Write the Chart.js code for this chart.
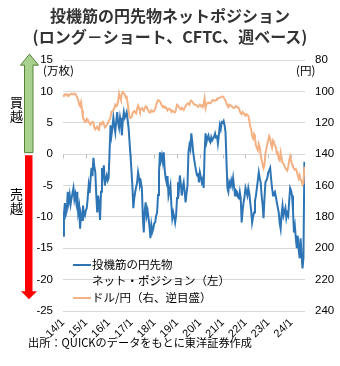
<!DOCTYPE html>
<html><head><meta charset="utf-8">
<script src="https://cdn.jsdelivr.net/npm/chart.js@4"></script>
<style>
html,body{margin:0;padding:0;background:#fff}
body{width:340px;height:366px;position:relative;overflow:hidden;font-family:"Noto Sans CJK JP","Noto Sans",sans-serif;color:#000}
canvas{position:absolute;left:0;top:0}
.tx{position:absolute;white-space:nowrap;line-height:1}
.title{left:0;width:340px;text-align:center;font-weight:bold;color:#333}
.sw{position:absolute;height:2px}
</style>
</head><body>
<canvas id="c" width="340" height="366"></canvas>
<div class="tx title" style="top:7px;font-size:16px">投機筋の円先物ネットポジション</div>
<div class="tx title" style="top:28px;font-size:16px">(ロング－ショート、CFTC、週ベース)</div>
<div class="tx" style="left:43px;top:65px;font-size:11.5px">(万枚)</div>
<div class="tx" style="left:296px;top:65px;font-size:11.5px">(円)</div>
<div class="tx" style="left:10px;top:95px;font-size:13px;line-height:13.5px">買<br>越</div>
<div class="tx" style="left:10px;top:187px;font-size:13px;line-height:14px">売<br>越</div>
<div class="sw" style="left:73px;top:264px;width:18px;background:#2e75b6"></div>
<div class="tx" style="left:92px;top:259px;font-size:11.5px">投機筋の円先物</div>
<div class="tx" style="left:92px;top:275px;font-size:11.5px">ネット・ポジション（左）</div>
<div class="sw" style="left:73px;top:297px;width:18px;background:#f4b183"></div>
<div class="tx" style="left:92px;top:292px;font-size:11.5px">ドル/円（右、逆目盛）</div>
<div class="tx" style="left:28px;top:337px;font-size:11.2px">出所：QUICKのデータをもとに東洋証券作成</div>
<script>
// tick labels on the time axis
const tickLabels = ['14/1','15/1','16/1','17/1','18/1','19/1','20/1','21/1','22/1','23/1','24/1'];
const tickYears = [2014,2015,2016,2017,2018,2019,2020,2021,2022,2023,2024];
// series: half-month observations starting Jan 2014
const seriesStart = 2014;
const stepsPerYear = 24;
// speculators' net yen futures position (10k contracts), left axis
const netPos = [
-13.0,-9.5,-7.8,-9.6,-9.0,-6.0,-7.6,-6.5,-8.0,-7.0,-6.2,-5.4,-7.2,-6.4,-7.7,-6.0,-9.3,-8.4,-11.9,-9.6,-10.5,-8.2,-9.4,-9.8,
-9.0,-8.6,-7.0,-5.0,-6.2,-4.0,-2.2,-3.5,-0.6,-2.0,-2.9,-6.5,-9.3,-6.6,-8.0,-10.5,-6.0,-2.2,-3.2,-1.8,-5.0,-4.0,-3.4,-4.2,
-3.8,0.3,4.6,3.0,4.2,5.8,4.6,3.5,5.2,6.7,5.0,4.2,5.8,4.8,3.0,5.5,6.7,5.8,6.2,6.7,5.5,4.2,2.0,-0.2,
-2.5,-5.0,-8.6,-7.0,-6.0,-5.2,-4.5,-2.9,-3.8,-5.0,-4.5,-5.4,-10.0,-12.5,-9.0,-7.7,-9.8,-9.0,-10.2,-11.5,-13.4,-11.3,-12.4,-11.9,
-11.0,-10.9,-9.8,-9.3,-6.5,-3.0,0.3,-1.0,-0.2,-1.2,0.3,-2.5,-3.8,-4.5,-3.5,-6.6,-5.8,-5.0,-8.0,-10.2,-9.3,-10.0,-10.9,-9.8,
-7.0,-4.5,-5.5,-3.4,-4.8,-6.6,-5.2,-4.5,-6.0,-7.7,-6.2,-5.0,0.3,1.4,0.8,3.3,2.0,0.3,-0.8,-1.8,-2.6,-3.4,-3.0,-4.5,
-2.9,-3.6,-4.5,-4.0,-5.4,0.3,3.3,1.9,2.6,3.0,2.2,1.9,2.7,2.2,2.5,2.8,3.3,2.6,3.0,1.7,3.0,4.6,4.0,5.1,
5.0,5.3,4.6,3.5,-1.0,-5.4,-6.0,-4.5,-5.0,-4.2,-5.0,-3.8,-5.2,-6.6,-5.8,-6.0,-6.8,-7.0,-6.0,-7.0,-10.9,-9.0,-7.7,-6.8,
-5.4,-6.0,-6.6,-5.4,-6.2,-7.7,-9.0,-10.9,-10.0,-9.3,-7.5,-6.6,-5.4,-4.2,-2.9,-3.8,-4.5,-6.6,-8.0,-10.2,-7.0,-4.5,-4.2,-3.8,
-2.9,-2.6,-2.2,-4.0,-5.4,-6.6,-6.2,-6.0,-6.8,-7.7,-8.5,-9.3,-11.0,-11.9,-9.5,-8.2,-9.8,-9.2,-8.6,-10.2,-9.4,-9.8,-7.5,-5.4,
-5.8,-6.6,-9.0,-12.5,-11.5,-13.4,-15.0,-13.0,-15.2,-16.6,-13.4,-16.0,-18.2,-16.6,-1.2
];
// USD/JPY, right axis (reversed)
const usdJpy = [
103.0,102.5,102.0,101.8,102.6,102.0,103.0,102.2,101.8,101.5,101.9,102.0,101.4,101.6,102.8,104.0,105.5,108.5,109.5,107.0,112.0,116.5,118.0,119.5,
119.5,117.5,118.0,119.5,120.5,121.2,119.8,119.5,119.8,123.3,124.2,123.0,122.5,124.0,124.5,120.5,120.0,120.3,119.5,120.8,123.0,122.5,121.5,120.5,
119.0,118.0,116.5,113.0,112.8,112.0,110.6,108.5,109.5,109.0,106.5,101.5,104.0,105.5,101.0,100.4,101.5,101.8,104.0,103.6,107.5,112.0,116.5,117.0,
116.5,114.5,113.0,112.5,113.5,114.0,111.0,109.0,110.5,112.5,111.2,110.8,112.0,112.5,110.5,109.5,109.8,111.5,112.3,113.5,113.5,112.0,112.5,113.0,
112.5,111.0,109.0,106.8,105.5,105.8,106.5,107.5,109.0,110.0,109.5,110.5,110.0,111.0,112.2,111.0,111.0,111.8,113.0,112.2,112.8,113.3,113.3,111.0,
108.5,109.0,110.0,111.0,111.5,110.5,111.0,111.8,110.5,109.5,108.5,107.8,107.8,108.5,106.5,105.8,106.5,107.5,108.3,108.5,108.8,109.0,109.5,109.2,
108.5,109.5,109.0,110.0,108.0,104.5,110.5,108.0,107.5,107.2,107.5,107.5,107.0,105.8,105.5,106.0,105.8,105.5,104.8,104.5,104.2,104.0,103.8,103.2,
103.2,103.8,104.8,105.8,107.5,109.0,110.0,108.5,108.8,109.2,109.8,110.5,110.6,110.0,109.5,109.8,110.0,110.8,112.5,114.0,114.5,113.2,113.8,114.5,
115.5,114.5,115.0,115.5,118.5,122.5,124.0,128.5,130.0,127.5,130.0,134.5,136.0,137.5,133.5,135.5,140.5,143.5,146.5,149.0,147.0,139.5,136.5,133.5,
131.0,128.5,130.0,134.0,136.0,131.5,133.0,134.5,135.5,139.5,139.0,143.0,144.0,139.0,142.5,145.5,146.0,147.5,149.0,149.8,150.5,148.0,144.0,141.5,
144.0,146.5,147.8,149.5,150.0,149.5,151.0,153.5,155.5,153.5,156.5,157.0,159.5,158.5,148.0
];
const toPts = arr => arr.map((v,i)=>({x: seriesStart + i/stepsPerYear, y: v}));

const decor = {
  id:'decor',
  beforeDatasetsDraw(chart){
    const {ctx, scales:{x,y}} = chart;
    const y0 = Math.round(y.getPixelForValue(0)) + 0.5;
    ctx.save();
    ctx.strokeStyle = '#bfbfbf'; ctx.lineWidth = 1;
    ctx.beginPath();
    tickYears.forEach(v=>{
      const px = Math.round(x.getPixelForValue(v)) + 0.5;
      ctx.moveTo(px, y0); ctx.lineTo(px, y0 + 4);
    });
    ctx.stroke();
    ctx.restore();
  },
  afterDraw(chart){
    const {ctx, scales:{y}} = chart;
    const y0 = y.getPixelForValue(0);
    ctx.save();
    // green (long) arrow
    ctx.beginPath();
    ctx.moveTo(29.5, y0 - 100);
    ctx.lineTo(38.5, y0 - 89);
    ctx.lineTo(33, y0 - 89);
    ctx.lineTo(33, y0 - 1.5);
    ctx.lineTo(24.5, y0 - 1.5);
    ctx.lineTo(24.5, y0 - 89);
    ctx.lineTo(20.5, y0 - 89);
    ctx.closePath();
    ctx.fillStyle = '#a9d18e'; ctx.fill();
    ctx.strokeStyle = '#548235'; ctx.lineWidth = 1; ctx.stroke();
    // red (short) arrow
    ctx.beginPath();
    ctx.moveTo(25, y0 + 1);
    ctx.lineTo(32.5, y0 + 1);
    ctx.lineTo(32.5, y0 + 137);
    ctx.lineTo(37, y0 + 137);
    ctx.lineTo(29, y0 + 145);
    ctx.lineTo(21, y0 + 137);
    ctx.lineTo(25, y0 + 137);
    ctx.closePath();
    ctx.fillStyle = '#ff0000'; ctx.fill();
    ctx.restore();
  }
};

new Chart(document.getElementById('c'), {
  type:'line',
  data:{datasets:[
    {label:'ドル/円（右、逆目盛）', data: toPts(usdJpy), yAxisID:'y1', borderColor:'#f4b183', borderWidth:2, pointRadius:0, tension:0, order:0},
    {label:'投機筋の円先物ネット・ポジション（左）', data: toPts(netPos), yAxisID:'y', borderColor:'#2e75b6', borderWidth:2, pointRadius:0, tension:0, order:1}
  ]},
  options:{
    responsive:false, animation:false, devicePixelRatio:1,
    layout:{padding:{top:60,bottom:25,left:0,right:0}},
    plugins:{legend:{display:false}, tooltip:{enabled:false}},
    scales:{
      x:{type:'linear', position:'bottom', min:2014, max:2024.61,
        grid:{display:false, drawTicks:false}, border:{display:false},
        afterBuildTicks: s => { s.ticks = tickYears.map(v=>({value:v})); },
        afterFit: s => { s.height = 30; },
        ticks:{autoSkip:false, minRotation:45, maxRotation:45, padding:5, color:'#000',
          font:{family:'"Liberation Sans", Arial, sans-serif', size:11},
          callback:(v,i)=>tickLabels[i]}},
      y:{position:'left', min:-25, max:15,
        grid:{color:'#d9d9d9', lineWidth:1, drawTicks:false}, border:{display:false},
        afterFit: s => { s.width = 63; },
        ticks:{stepSize:5, padding:10, color:'#000', font:{family:'"Liberation Sans", Arial, sans-serif', size:11.5}}},
      y1:{position:'right', reverse:true, min:80, max:240,
        grid:{drawOnChartArea:false, drawTicks:false}, border:{display:false},
        afterFit: s => { s.width = 35; },
        ticks:{stepSize:20, padding:10, color:'#000', font:{family:'"Liberation Sans", Arial, sans-serif', size:11.5}}}
    }
  },
  plugins:[decor]
});
</script>
</body></html>
